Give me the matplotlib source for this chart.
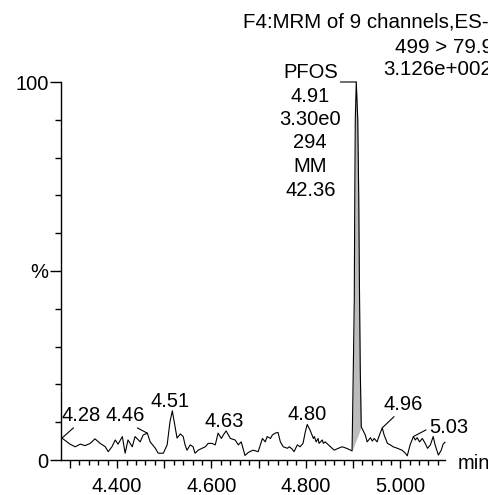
import numpy as np
import matplotlib
matplotlib.use("Agg")
import matplotlib.pyplot as plt

plt.rcParams['font.family'] = ['Liberation Sans', 'DejaVu Sans']

# chromatogram trace (min, %)
time = [4.283, 4.300, 4.311, 4.322, 4.332, 4.343, 4.353, 4.364, 4.375, 4.381,
        4.389, 4.396, 4.402, 4.411, 4.417, 4.423, 4.432, 4.438, 4.449, 4.455,
        4.464, 4.470, 4.481, 4.487, 4.498, 4.506, 4.512, 4.517, 4.521, 4.527,
        4.534, 4.540, 4.544, 4.548, 4.555, 4.561, 4.565, 4.572, 4.580, 4.587,
        4.593, 4.601, 4.608, 4.614, 4.621, 4.625, 4.631, 4.640, 4.650, 4.657,
        4.663, 4.671, 4.678, 4.688, 4.699, 4.708, 4.714, 4.718, 4.725, 4.729,
        4.735, 4.741, 4.746, 4.752, 4.761, 4.765, 4.771, 4.775, 4.782, 4.788,
        4.794, 4.799, 4.803, 4.809, 4.816, 4.818, 4.822, 4.826, 4.828, 4.835,
        4.837, 4.841, 4.848, 4.856, 4.860, 4.869, 4.877, 4.884, 4.890, 4.898,
        4.8995, 4.9012, 4.9027, 4.9037, 4.9048, 4.9069, 4.9101, 4.9122, 4.9139, 4.9154,
        4.9175, 4.926, 4.930, 4.937, 4.941, 4.945, 4.951, 4.956, 4.962, 4.966,
        4.973, 4.979, 4.985, 4.994, 5.004, 5.011, 5.015, 5.021, 5.028, 5.032,
        5.036, 5.041, 5.047, 5.053, 5.058, 5.064, 5.070, 5.074, 5.081, 5.087,
        5.091, 5.095]
intensity = [5.8, 4.2, 3.5, 4.2, 3.8, 4.4, 5.6, 4.4, 3.5, 2.2,
             3.5, 5.3, 4.2, 6.2, 1.8, 5.3, 3.5, 6.2, 4.8, 6.6,
             7.1, 4.8, 3.1, 1.8, 1.8, 4.0, 10.1, 13.0, 10.1, 5.8,
             6.9, 6.2, 4.0, 2.6, 4.0, 3.5, 1.8, 2.6, 3.1, 3.5,
             4.4, 4.4, 4.0, 7.1, 5.7, 6.6, 7.7, 5.7, 5.3, 4.0,
             4.8, 1.2, 2.0, 2.6, 2.2, 5.7, 4.8, 6.2, 5.7, 6.6,
             7.1, 7.3, 4.8, 3.5, 3.1, 3.5, 2.9, 2.2, 4.0, 3.5,
             4.4, 7.5, 9.4, 7.9, 5.7, 6.2, 4.8, 5.7, 4.4, 5.3,
             4.4, 4.8, 4.0, 3.1, 2.6, 3.1, 3.5, 3.2, 2.9, 2.4,
             15.9, 29.1, 42.3, 68.8, 90.0, 100.0, 90.0, 68.8, 42.3, 23.8,
             8.8, 6.6, 4.8, 5.9, 5.0, 5.7, 4.8, 6.6, 8.5, 6.6,
             4.4, 4.0, 3.5, 3.1, 2.6, 1.8, 1.1, 4.0, 6.2, 5.3,
             5.9, 4.8, 5.7, 4.4, 3.1, 4.0, 6.2, 4.0, 1.3, 2.6,
             4.2, 4.7]

# integrated peak
peak_start, peak_end = 4.898, 4.9175
peak_info = ["PFOS", "4.91", "3.30e0", "294", "MM", "42.36"]

# small peak labels and their placement (offset pixels, leader relpos or None)
labels = ["4.28", "4.46", "4.51", "4.63", "4.80", "4.96", "5.03"]
label_offsets = [(19, 17), (-22, 12), (-2, 4), (-2, 4), (0, 4), (21, 18), (35, 4)]
label_leaders = [(0.39, 0), (0.67, 0), None, None, None, (0.34, 0), (0.02, 0.45)]

header = ["F4:MRM of 9 channels,ES-", "499 > 79.9", "3.126e+002"]

time = np.array(time)
intensity = np.array(intensity)
FS = 14.5

W, H = 488, 495
fig = plt.figure(figsize=(W / 100, H / 100), dpi=100)
ax = fig.add_axes([61 / W, 35 / H, (445 - 61) / W, (460 - 82) / H])

# gray filled peak
m = (time >= peak_start) & (time <= peak_end)
tp, yp = time[m], intensity[m]
base = np.interp(tp, [tp[0], tp[-1]], [yp[0], yp[-1]])
ax.fill_between(tp, base, yp, color='#bcbcbc', lw=0)
ax.plot(time, intensity, color='black', lw=0.8, clip_on=False)

ax.set_xlim(4.281, 5.095)
ax.set_ylim(0, 100)
for s in ['top', 'right']:
    ax.spines[s].set_visible(False)
for s in ['left', 'bottom']:
    ax.spines[s].set_linewidth(1.0)

ax.set_yticks([0, 50, 100])
ax.set_yticklabels(['0', '%', '100'])
ax.set_yticks(np.arange(10, 100, 10), minor=True)
ax.tick_params(axis='y', which='major', length=8, width=1, pad=1, labelsize=FS)
ax.tick_params(axis='y', which='minor', length=4.5, width=1)

major = np.round(np.arange(4.3, 5.05, 0.1), 2)
ax.set_xticks(major)
ax.set_xticklabels(['%.3f' % v if round(v * 10) % 2 == 0 else '' for v in major])
ax.set_xticks(np.round(np.arange(4.30, 5.09, 0.02), 2), minor=True)
ax.tick_params(axis='x', which='major', length=6, width=1, pad=6, labelsize=FS)
ax.tick_params(axis='x', which='minor', length=3.8, width=1)

# peak labels
for lab, off, rel in zip(labels, label_offsets, label_leaders):
    v = float(lab)
    w = (time >= v - 0.008) & (time <= v + 0.008)
    i = np.where(w)[0][np.argmax(intensity[w])]
    kw = dict(xy=(time[i], intensity[i]), xytext=off, textcoords='offset pixels',
              ha='center', va='baseline', fontsize=FS, annotation_clip=False)
    if rel is not None:
        kw['arrowprops'] = dict(arrowstyle='-', lw=0.8, color='black',
                                shrinkA=0, shrinkB=0, relpos=rel)
    ax.annotate(lab, **kw)

# main peak annotation
w = (time >= 4.902) & (time <= 4.918)
i = np.where(w)[0][np.argmax(intensity[w])]
apex = (time[i], intensity[i])
ax.annotate(peak_info[0], xy=apex, xytext=(-46, 4), textcoords='offset pixels',
            ha='center', va='baseline', fontsize=FS, annotation_clip=False,
            arrowprops=dict(arrowstyle='-', lw=0.8, color='black',
                            shrinkA=0, shrinkB=0, relpos=(1, 0)))
for k, line in enumerate(peak_info[1:], start=1):
    ax.annotate(line, xy=apex, xytext=(-46, 4 - 23.5 * k), textcoords='offset pixels',
                ha='center', va='baseline', fontsize=FS, annotation_clip=False)

# header text
fig.text(243 / W, 1 - 27 / H, header[0], ha='left', va='baseline', fontsize=14.8)
fig.text(395 / W, 1 - 53 / H, header[1], ha='left', va='baseline', fontsize=14.8)
fig.text(383 / W, 1 - 75 / H, header[2], ha='left', va='baseline', fontsize=14.8)
fig.text(458 / W, 1 - 469 / H, 'min', ha='left', va='baseline', fontsize=FS)

fig.savefig('out.png', dpi=100)
